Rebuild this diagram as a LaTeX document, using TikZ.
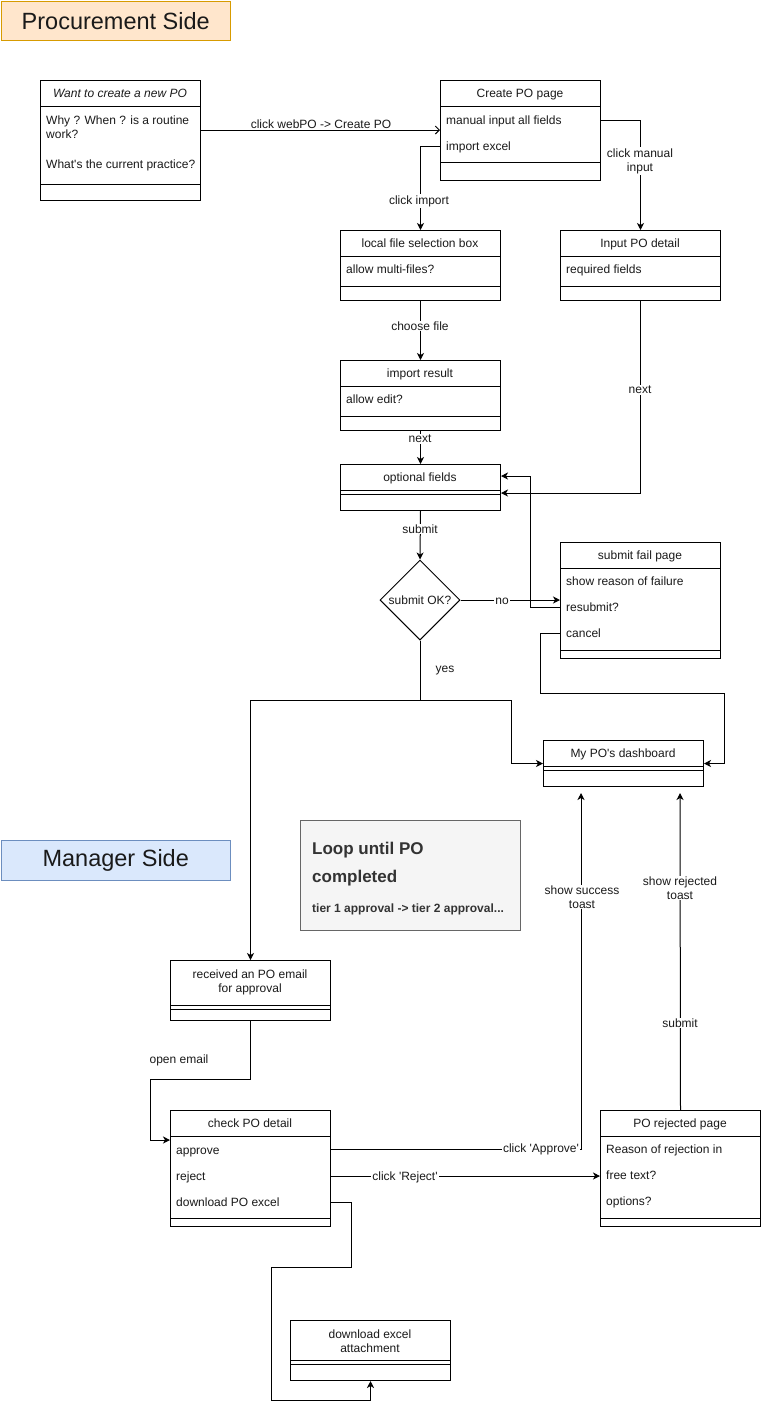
\documentclass[tikz,border=0pt]{standalone}
\usepackage{fontspec}
\setmainfont{Liberation Sans}[Ligatures=TeXOff]
\usetikzlibrary{shapes.geometric,arrows.meta,calc}
\definecolor{procfill}{HTML}{FFE6CC}
\definecolor{procdraw}{HTML}{D79B00}
\definecolor{mgrfill}{HTML}{DAE8FC}
\definecolor{mgrdraw}{HTML}{6C8EBF}
\definecolor{notefill}{HTML}{F5F5F5}
\definecolor{notedraw}{HTML}{666666}
\definecolor{notetext}{HTML}{333333}
\definecolor{txtc}{HTML}{1A1A1A}
\newcommand\fsz[2]{\fontsize{#1}{#2}\selectfont}
\newcommand\sepline[2]{\draw[ln] ($(#1.north west)+(0,#2)$) -- ($(#1.north east)+(0,#2)$);}
\tikzset{
  ln/.style={line width=1pt, draw=black},
  cls/.style={draw, line width=1pt, fill=white, anchor=north west, inner sep=0pt, minimum width=160pt, text=txtc},
  hd/.style={font=\fsz{12pt}{14pt}, align=center, inner sep=0pt, text height=8.6pt, text depth=2.4pt, text=txtc},
  it/.style={font=\fsz{12pt}{14pt}, anchor=west, inner sep=0pt, align=left, text height=8.6pt, text depth=2.4pt, text=txtc},
  arr/.style={line width=1pt, -{Stealth[length=7pt,width=7pt,inset=2pt]}},
  openarr/.style={line width=1pt, -{Straight Barb[length=4pt,width=8pt]}},
  conn/.style={line width=1pt},
  lbl/.style={font=\fsz{12pt}{14pt}, fill=white, inner sep=1pt, align=center, text=txtc},
  lblnf/.style={font=\fsz{12pt}{14pt}, inner sep=1pt, align=center, text=txtc},
  side/.style={draw, line width=1pt, anchor=north west, minimum width=229.5pt, minimum height=39.5pt, inner sep=0pt, font=\fsz{23.5pt}{28pt}, text=txtc},
}
\begin{document}
\begin{tikzpicture}[x=1pt,y=-1pt]
\useasboundingbox (0,0) rectangle (761,1409);
\fill[white] (0,0) rectangle (761,1409);

% side labels
\node[side, fill=procfill, draw=procdraw] (proc) at (0.5,0.5) {Procurement Side};
\node[side, fill=mgrfill, draw=mgrdraw] (mgr) at (0.5,840) {Manager Side};

% A: want to create
\node[cls, minimum height=120pt] (A) at (40,80) {};
\sepline{A}{26}\sepline{A}{104}
\node[hd, font=\fsz{12pt}{14pt}\itshape] (Ah) at (120,94) {Want to create a new PO};
\node[it] (A1) at (46,135) {Why ? When ? is a routine\\work?};
\node[it] (A2) at (46,165) {What's the current practice?};

% B: create PO page
\node[cls, minimum height=100pt] (B) at (440,80) {};
\sepline{B}{26}\sepline{B}{82}
\node[hd] (Bh) at (520,94) {Create PO page};
\node[it] (B1) at (446,121) {manual input all fields};
\node[it] (B2) at (446,147) {import excel};

% C: local file selection box
\node[cls, minimum height=70pt] (C) at (340,230) {};
\sepline{C}{26}\sepline{C}{56}
\node[hd] (Ch) at (420,244) {local file selection box};
\node[it] (C1) at (346,270) {allow multi-files?};

% D: input PO detail
\node[cls, minimum height=70pt] (D) at (560,230) {};
\sepline{D}{26}\sepline{D}{56}
\node[hd] (Dh) at (640,244) {Input PO detail};
\node[it] (D1) at (566,270) {required fields};

% E: import result
\node[cls, minimum height=70pt] (E) at (340,360) {};
\sepline{E}{26}\sepline{E}{56}
\node[hd] (Eh) at (420,374) {import result};
\node[it] (E1) at (346,400) {allow edit?};

% F: optional fields
\node[cls, minimum height=46pt] (F) at (340,464) {};
\sepline{F}{26}\sepline{F}{30}
\node[hd] (Fh) at (420,478) {optional fields};

% diamond
\node[draw, line width=1pt, diamond, aspect=1, minimum width=80pt, minimum height=80pt, inner sep=0pt, fill=white, font=\fsz{12pt}{14pt}, text=txtc] (dia) at (420,600) {submit OK?};

% G: submit fail page
\node[cls, minimum height=116pt] (G) at (560,542) {};
\sepline{G}{26}\sepline{G}{108}
\node[hd] (Gh) at (640,556) {submit fail page};
\node[it] (G1) at (566,582) {show reason of failure};
\node[it] (G2) at (566,608) {resubmit?};
\node[it] (G3) at (566,634) {cancel};

% M: dashboard
\node[cls, minimum height=46pt] (M) at (543,740) {};
\sepline{M}{26}\sepline{M}{30}
\node[hd] (Mh) at (623,754) {My PO's dashboard};

% note
\node[draw=notedraw, fill=notefill, line width=1pt, anchor=north west, minimum width=220pt, minimum height=110pt, inner sep=0pt] (note) at (300,820) {};
\node[anchor=west, inner sep=0pt, font=\fsz{17pt}{20pt}\bfseries, text=notetext] (n1) at (312,850) {Loop until PO};
\node[anchor=west, inner sep=0pt, font=\fsz{17pt}{20pt}\bfseries, text=notetext] (n2) at (312,878) {completed};
\node[anchor=west, inner sep=0pt, font=\fsz{12pt}{14pt}\bfseries, text=notetext] (n3) at (312,909) {tier 1 approval -> tier 2 approval...};

% I: received email
\node[cls, minimum height=60pt] (I) at (170,960) {};
\sepline{I}{45}\sepline{I}{49}
\node[hd] (Ih) at (250,989) {received an PO email\\for approval};

% J: check PO detail
\node[cls, minimum height=116pt] (J) at (170,1110) {};
\sepline{J}{26}\sepline{J}{108}
\node[hd] (Jh) at (250,1124) {check PO detail};
\node[it] (J1) at (176,1151) {approve};
\node[it] (J2) at (176,1177) {reject};
\node[it] (J3) at (176,1203) {download PO excel};

% K: PO rejected page
\node[cls, minimum height=116pt] (K) at (600,1110) {};
\sepline{K}{26}\sepline{K}{108}
\node[hd] (Kh) at (680,1124) {PO rejected page};
\node[it] (K1) at (606,1150) {Reason of rejection in};
\node[it] (K2) at (606,1176) {free text?};
\node[it] (K3) at (606,1202) {options?};

% L: download excel attachment
\node[cls, minimum height=60pt] (L) at (290,1320) {};
\sepline{L}{40}\sepline{L}{44}
\node[hd] (Lh) at (370,1349) {download excel\\attachment};

% ---------- connectors ----------
\draw[openarr] ($(A.north east)+(0,50)$) -- ($(B.north west)+(0,50)$);
\node[lblnf] (l1) at (321,124) {click webPO -> Create PO};

\draw[arr] (B.west |- 0,146) -| (C.north);
\node[lbl] (l2) at (419,201) {click import};

\draw[arr] (B.east |- 0,120) -| (D.north);
\node[lbl] (l3) at (640,161) {click manual\\input};

\draw[arr] (C.south) -- (E.north);
\node[lbl] (l4) at (420,326) {choose file};

\draw[arr] (E.south) -- (F.north);
\node[lbl] (l5) at (420,439) {next};

\draw[arr] (D.south) |- ($(F.north east)+(0,29)$);
\node[lbl] (l6) at (640,390) {next};

\draw[arr] (F.south) -- (dia.north);
\node[lbl] (l7) at (420,529) {submit};

\draw[arr] (dia.east) -- (G.west |- dia.east);
\node[lbl] (l8) at (502,601) {no};

\draw[arr] (G.west |- 0,607) -- ++(-30,0) |- ($(F.north east)+(0,12)$);

\draw[arr] (G.west |- 0,633) -- ++(-20,0) -- ++(0,60) -| ($(M.east)+(20,0)$) -- (M.east);

\draw[arr] (dia.south) -- ++(0,60) -| ($(M.west)+(-32,0)$) -- (M.west);
\draw[arr] (dia.south) -- ++(0,60) -| (I.north);
\node[lblnf] (l9) at (445,671) {yes};

\draw[arr] (I.south) -- ++(0,58) -- ++(-100,0) |- ($(J.north west)+(0,30)$);
\node[lblnf] (l10) at (179,1060) {open email};

\draw[arr] (J.east |- 0,1149) -| ($(M.south west)+(38,6)$);
\node[lbl] (l11) at (541,1149) {click 'Approve'};
\node[lbl] (l12) at (582,897) {show success\\toast};

\draw[arr] (J.east |- 0,1176) -- (K.west |- 0,1176);
\node[lbl] (l13) at (405,1177) {click 'Reject'};

\draw[arr] (K.north) -- ($(M.south west)+(137,6)$);
\node[lbl] (l14) at (680,1023) {submit};
\node[lbl] (l15) at (680,888) {show rejected\\toast};

\draw[arr] (J.east |- 0,1202) -- ++(20,0) -- ++(0,65) -- ++(-80,0) -- ++(0,133) -| (L.south);
\end{tikzpicture}
\end{document}
